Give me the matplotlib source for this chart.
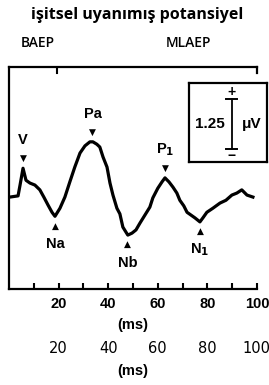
import numpy as np
import matplotlib.pyplot as plt

plt.rcParams['font.family'] = ['Liberation Sans', 'DejaVu Sans']

# trace: time (ms) and amplitude (uV)
t_ms = [0.3, 3.6, 4.4, 5.6, 6.8, 8.4, 10.4, 12.4, 14.0, 15.7, 17.3, 18.5,
        20.5, 22.5, 24.5, 26.5, 28.6, 30.6, 32.6, 33.8, 35.4, 36.6, 37.9,
        39.5, 40.7, 41.9, 43.5, 44.7, 45.9, 47.9, 49.6, 51.2, 52.8, 54.8,
        56.8, 58.0, 60.0, 61.7, 62.9, 64.5, 66.1, 67.7, 68.9, 70.5, 71.8,
        73.4, 75.0, 77.0, 78.2, 79.8, 82.2, 85.1, 87.5, 89.9, 91.9, 93.9,
        96.0, 98.4]
amp_uv = [0.0, 0.03, 0.3, 0.72, 0.42, 0.35, 0.3, 0.18, 0.0, -0.2, -0.38,
          -0.48, -0.28, 0.0, 0.38, 0.75, 1.1, 1.28, 1.38, 1.38, 1.32, 1.25,
          1.0, 0.75, 0.35, 0.05, -0.28, -0.42, -0.75, -0.95, -0.9, -0.82,
          -0.65, -0.45, -0.25, -0.02, 0.22, 0.38, 0.48, 0.38, 0.25, 0.1,
          -0.08, -0.22, -0.38, -0.45, -0.52, -0.62, -0.52, -0.38, -0.28,
          -0.15, -0.08, 0.05, 0.1, 0.18, 0.05, 0.0]

# labelled peaks
peak_names = ['V', 'Na', 'Pa', 'Nb', r'P$_\mathbf{1}$', r'N$_\mathbf{1}$']
peak_ms = [5.6, 18.5, 33.8, 47.9, 62.9, 77.0]
peak_uv = [0.72, -0.48, 1.38, -0.95, 0.48, -0.62]
peak_up = [True, False, True, False, True, False]

major_ticks = [20, 40, 60, 80, 100]
minor_ticks = [10, 30, 50, 70, 90]
baep_end_ms = 19.3
scale_uv = 1.25

fig = plt.figure(figsize=(2.69, 3.85), dpi=100)
ax = fig.add_axes([0.034, 0.249, 0.921, 0.577])
ax.plot(t_ms, amp_uv, color='black', lw=2.3, solid_joinstyle='round')
ax.set_xlim(0, 100)
ax.set_ylim(-2.3, 3.25)

for s in ['left', 'top', 'bottom', 'right']:
    ax.spines[s].set_linewidth(1.6)
ax.spines['right'].set_bounds(3.1, 3.25)
ax.axvline(baep_end_ms, ymin=0.975, ymax=1, color='black', lw=1.5)

ax.set_yticks([])
ax.set_xticks(major_ticks)
ax.set_xticks(minor_ticks, minor=True)
ax.set_xticklabels([str(v) for v in major_ticks], fontweight='bold', fontsize=10.5)
ax.tick_params(axis='x', which='both', direction='in', length=4, width=1.5, pad=6)
ax.set_xlabel('(ms)', fontweight='bold', fontsize=10.5, labelpad=5)

for name, x, y, up in zip(peak_names, peak_ms, peak_uv, peak_up):
    d = 1 if up else -1
    ax.annotate('▼' if up else '▲', xy=(x, y), xytext=(0, d * 7),
                textcoords='offset points', ha='center', va='center',
                fontsize=6.5, family='DejaVu Sans')
    ax.annotate(name, xy=(x, y), xytext=(0, d * 20),
                textcoords='offset points', ha='center', va='center',
                fontsize=10.5, fontweight='bold')

# second row of tick labels below
sec = ax.secondary_xaxis(-0.215)
sec.set_xticks(major_ticks)
sec.set_xticklabels([str(v) for v in major_ticks], fontsize=10.5, family='DejaVu Sans')
sec.tick_params(length=0, pad=3)
sec.spines['bottom'].set_visible(False)
sec.set_xlabel('(ms)', fontweight='bold', fontsize=10.5, labelpad=6)

# scale bar box
box = fig.add_axes([189 / 269, 1 - 162 / 385, 78 / 269, 79 / 385])
box.set_xlim(0, 1)
box.set_ylim(0, 1.975)
box.set_xticks([])
box.set_yticks([])
for s in box.spines.values():
    s.set_linewidth(1.6)
bar_y0 = 0.325
box.plot([0.55, 0.55], [bar_y0, bar_y0 + scale_uv], color='black', lw=1.3)
box.plot([0.48, 0.62], [bar_y0, bar_y0], color='black', lw=1.4)
box.plot([0.48, 0.62], [bar_y0 + scale_uv, bar_y0 + scale_uv], color='black', lw=1.4)
box.text(0.55, bar_y0 + scale_uv + 0.17, '+', ha='center', va='center', fontsize=10, fontweight='bold')
box.text(0.55, bar_y0 - 0.17, '−', ha='center', va='center', fontsize=10, fontweight='bold')
box.text(0.27, 0.95, f'{scale_uv}', ha='center', va='center', fontsize=11, fontweight='bold')
box.text(0.8, 0.95, 'μV', ha='center', va='center', fontsize=11, fontweight='bold')

fig.text(137 / 269, 1 - 15 / 385, 'işitsel uyanımış potansiyel', ha='center', va='center',
         fontsize=11.5, fontweight='bold', family=['Open Sans', 'DejaVu Sans'])
fig.text(38 / 269, 1 - 43 / 385, 'BAEP', ha='center', va='center', fontsize=10,
         fontweight='semibold', family=['Open Sans', 'DejaVu Sans'])
fig.text(188 / 269, 1 - 43 / 385, 'MLAEP', ha='center', va='center', fontsize=10,
         fontweight='semibold', family=['Open Sans', 'DejaVu Sans'])

fig.savefig('out.png', dpi=100)
